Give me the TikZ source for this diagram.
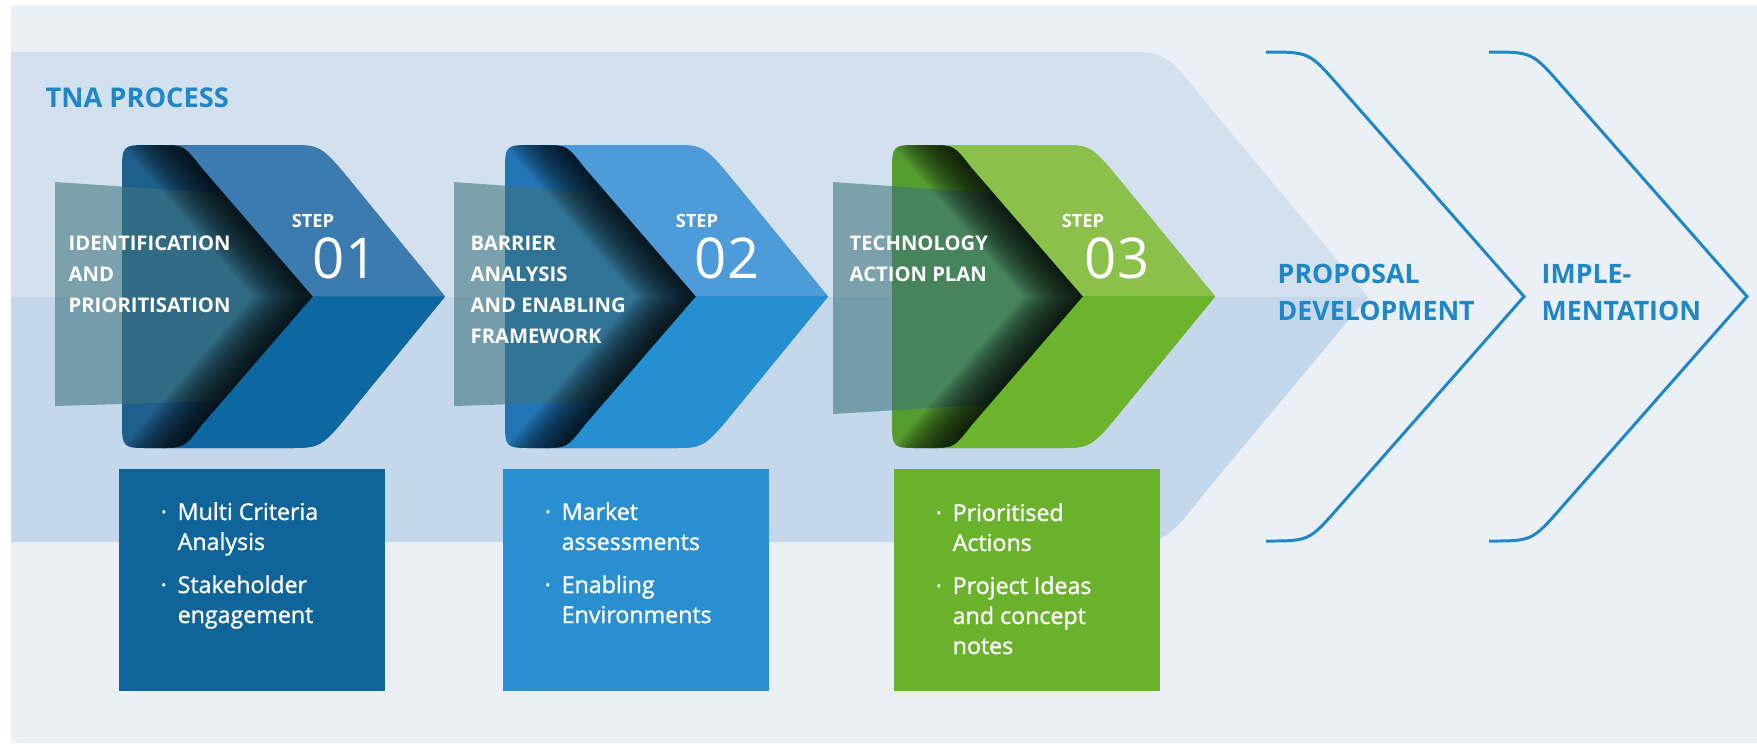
\documentclass[tikz,border=0pt]{standalone}
\usepackage{fontspec}
\setmainfont{Open Sans}
\newfontfamily\listfont[FakeBold=1.2]{Open Sans}
\usepackage{xcolor}
\usepackage{tikz}
\usetikzlibrary{positioning, calc}

\definecolor{PageBg}{RGB}{235,240,247}
\definecolor{BandTop}{RGB}{211,225,239}
\definecolor{BandLow}{RGB}{196,215,235}
\definecolor{TNABlue}{RGB}{31,134,200}
\definecolor{PanelGrey}{RGB}{61,115,125}
\definecolor{StepAUp}{RGB}{59,123,176}
\definecolor{StepALo}{RGB}{13,103,160}
\definecolor{StepABk}{RGB}{31,95,140}
\definecolor{StepBUp}{RGB}{77,155,216}
\definecolor{StepBLo}{RGB}{36,144,210}
\definecolor{StepBBk}{RGB}{33,117,181}
\definecolor{StepCUp}{RGB}{139,192,74}
\definecolor{StepCLo}{RGB}{108,180,44}
\definecolor{StepCBk}{RGB}{85,157,47}
\definecolor{BoxA}{RGB}{15,100,153}
\definecolor{BoxB}{RGB}{42,143,209}
\definecolor{BoxC}{RGB}{107,178,44}

\tikzset{
    titletext/.style={
        font=\bfseries\fontsize{7.75}{10.5}\selectfont, text=TNABlue, inner sep=0pt
    },
    headtext/.style={
        font=\bfseries\fontsize{5.75}{8.8}\selectfont, text=white, align=left,
        anchor=base west, inner sep=0pt
    },
    steplabel/.style={
        font=\bfseries\fontsize{5.2}{6}\selectfont, text=white, anchor=base, inner sep=0pt
    },
    stepnum/.style={
        font=\fontsize{16}{18}\selectfont, text=white, anchor=base, inner sep=0pt
    },
    listbox/.style={
        draw=none, minimum width=26.6mm, minimum height=22.2mm, anchor=north west, inner sep=0pt
    },
    listtext/.style={
        font=\listfont\fontsize{6.6}{8.54}\selectfont, text=white, align=left,
        anchor=base west, inner sep=0pt
    },
    phasetext/.style={
        font=\bfseries\fontsize{7.6}{10.5}\selectfont, text=TNABlue, align=left,
        anchor=base west, inner sep=0pt
    },
    phaseline/.style={
        draw=TNABlue, line width=0.85pt
    },
    panel/.style={
        fill=PanelGrey, opacity=0.58
    }
}

\newcommand\tnadot{\makebox[1.7mm][l]{·}}
\newcommand\tnaskip{\hspace*{1.7mm}}

% chevron pieces in local units (left edge at x=0)
\newcommand\chevoutline{(0,173) .. controls (0,145) .. (28,145) -- (165,145) .. controls (199,145) .. (231,184) -- (323,296.5) -- (231,409) .. controls (199,448) .. (165,448) -- (28,448) .. controls (0,448) .. (0,420) -- cycle}
\newcommand\chevbackleft{(0,173) .. controls (0,145) .. (28,145) -- (40,145) .. controls (62,145) .. (80,168) -- (191,296.5) -- (80,425) .. controls (62,448) .. (40,448) -- (28,448) .. controls (0,448) .. (0,420) -- cycle}
\newcommand\chevfoldleft{(-120,140) -- (40,140) -- (40,145) .. controls (62,145) .. (80,168) -- (191,296.5) -- (80,425) .. controls (62,448) .. (40,448) -- (40,453) -- (-120,453) -- cycle}
\newcommand\chevfold{(30,110) -- (191,296.5) -- (30,483)}
\newcommand\chevfrontup{(40,145) -- (165,145) .. controls (199,145) .. (231,184) -- (323,296.5) -- (191,296.5) -- (80,168) .. controls (62,145) .. (40,145) -- cycle}
\newcommand\chevfrontlo{(40,448) -- (165,448) .. controls (199,448) .. (231,409) -- (323,296.5) -- (191,296.5) -- (80,425) .. controls (62,448) .. (40,448) -- cycle}

\begin{document}
\begin{tikzpicture}[x=0.1mm, y=-0.1mm]
    \useasboundingbox (0,0) rectangle (1757,743);
    \fill[white] (0,0) rectangle (1757,743);
    \fill[PageBg] (11,5) rectangle (1757,743);

    % --- big TNA band ---
    \fill[BandTop] (11,52) -- (1122,52) .. controls (1166,52) .. (1207,104) -- (1368,297) -- (11,297) -- cycle;
    \fill[BandLow] (11,297) -- (1368,297) -- (1207,490) .. controls (1166,542) .. (1122,542) -- (11,542) -- cycle;

    % --- the three step chevrons ---
    \foreach \cx/\trapx/\trapy/\colup/\collo/\colbk in {122/-67/406/StepAUp/StepALo/StepABk, 505/-51/406/StepBUp/StepBLo/StepBBk, 892/-59/414/StepCUp/StepCLo/StepCBk}{
        \begin{scope}[shift={(\cx,0)}]
            \fill[\colbk] \chevoutline;
            \begin{scope}
                \clip \chevfoldleft;
                \fill[panel] (\trapx,182) -- (200,200) -- (200,398) -- (\trapx,\trapy) -- cycle;
            \end{scope}
            \begin{scope}
                \clip \chevbackleft;
                \foreach \k [evaluate=\k as \lw using \k*0.45] in {1,...,20}
                    \draw[black, opacity=0.065, line width=\lw mm, line join=round] \chevfold;
            \end{scope}
            \fill[\colup] \chevfrontup;
            \fill[\collo] \chevfrontlo;
        \end{scope}
    }

    % --- titles on the chevrons ---
    \node[titletext, anchor=base west] (tna) at (45,107) {TNA PROCESS};

    \node[headtext] (head1) at (68,312) {IDENTIFICATION\\AND\\PRIORITISATION};
    \node[headtext] (head2) at (470,343) {BARRIER\\ANALYSIS\\AND ENABLING\\FRAMEWORK};
    \node[headtext] (head3) at (849,281) {TECHNOLOGY\\ACTION PLAN};

    \node[steplabel] (step1) at (313,227) {STEP};
    \node[stepnum] (num1) at (345,278) {01};
    \node[steplabel] (step2) at (697,227) {STEP};
    \node[stepnum] (num2) at (727,278) {02};
    \node[steplabel] (step3) at (1083,227) {STEP};
    \node[stepnum] (num3) at (1117,278) {03};

    % --- boxes below ---
    \node[listbox, fill=BoxA] (box1) at (118,468) {};
    \node[listbox, fill=BoxB] (box2) at (502,468) {};
    \node[listbox, fill=BoxC] (box3) at (893,468) {};

    \node[listtext] (list1) at ($(box1.north west)+(42,155)$) {\tnadot Multi Criteria\\\tnaskip Analysis\\[1.3mm]\tnadot Stakeholder\\\tnaskip engagement};
    \node[listtext] (list2) at ($(box2.north west)+(42,155)$) {\tnadot Market\\\tnaskip assessments\\[1.3mm]\tnadot Enabling\\\tnaskip Environments};
    \node[listtext] (list3) at ($(box3.north west)+(42,186)$) {\tnadot Prioritised\\\tnaskip Actions\\[1.3mm]\tnadot Project Ideas\\\tnaskip and concept\\\tnaskip notes};

    % --- later phases ---
    \draw[phaseline] (1266,52) .. controls (1309,52) .. (1338,85) -- (1524,296.5) -- (1338,508) .. controls (1309,541) .. (1266,541);
    \draw[phaseline] (1489,52) .. controls (1532,52) .. (1561,85) -- (1747,296.5) -- (1561,508) .. controls (1532,541) .. (1489,541);
    \node[phasetext] (proposal) at (1277,320) {PROPOSAL\\DEVELOPMENT};
    \node[phasetext] (implement) at (1541,320) {IMPLE-\\MENTATION};
\end{tikzpicture}
\end{document}
